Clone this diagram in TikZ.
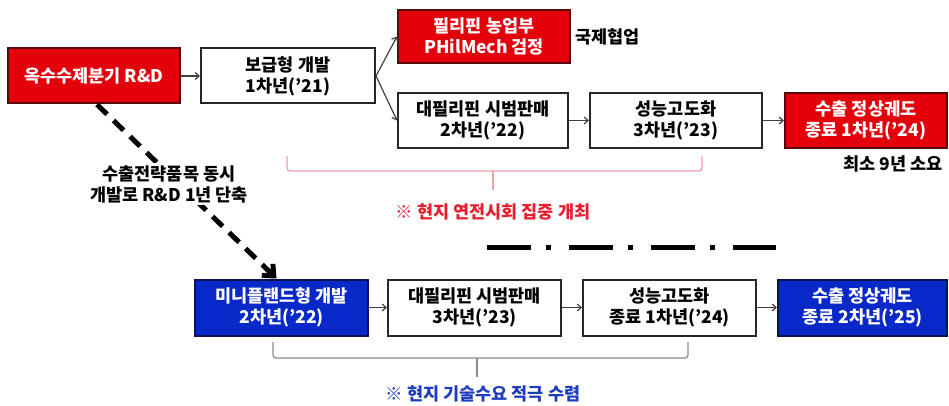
\documentclass[tikz,border=0pt]{standalone}
\usepackage{fontspec}
\setmainfont{Noto Sans CJK KR}
\usetikzlibrary{arrows.meta}
\definecolor{boxred}{RGB}{228,0,10}
\definecolor{boxredline}{RGB}{90,10,10}
\definecolor{boxblue}{RGB}{8,40,200}
\definecolor{boxblueline}{RGB}{10,20,80}
\definecolor{notered}{RGB}{232,30,45}
\definecolor{noteblue}{RGB}{30,60,190}
\definecolor{bracered}{RGB}{240,160,170}
\definecolor{bracegray}{RGB}{140,140,140}
\begin{document}
\begin{tikzpicture}[x=1pt,y=-1pt,
  every node/.style={font=\fontsize{17.5}{21}\selectfont\bfseries, inner sep=0pt, align=center},
  wbox/.style={draw=black!85, line width=2pt, fill=white, text=black, minimum height=55pt},
  rbox/.style={draw=boxredline, line width=2pt, fill=boxred, text=white, minimum height=55pt},
  bbox/.style={draw=boxblueline, line width=2pt, fill=boxblue, text=white, minimum height=56pt},
  thin/.style={draw=black!75, line width=1.2pt, -{Straight Barb[length=4pt,width=7pt]}},
  plain/.style={text=black}
]
\useasboundingbox (0,0) rectangle (949,406);
% top row
\node[rbox, minimum width=172pt] (A) at (94,76) {옥수수제분기 R\&D};
\node[wbox, minimum width=174pt] (B) at (288,76) {보급형 개발\\1차년('21)};
\node[rbox, minimum width=172pt, minimum height=53pt] (C) at (484,36.5) {필리핀 농업부\\PHilMech 검정};
\node[plain, anchor=west] (coop) at (575,37) {국제협업};
\node[wbox, minimum width=170pt] (D) at (483,120.5) {대필리핀 시범판매\\2차년('22)};
\node[wbox, minimum width=172pt] (E) at (676,120.5) {성능고도화\\3차년('23)};
\node[rbox, minimum width=162pt] (F) at (866,120.5) {수출 정상궤도\\종료 1차년('24)};
\node[plain] (min) at (893,164) {최소 9년 소요};
% arrows top
\draw[thin] (A) -- (B);
\draw[thin] (B.east) -- (C.west);
\draw[thin] (B.east) -- (D.west);
\draw[thin] (D) -- (E);
\draw[thin] (E) -- (F);
% red brace
\draw[bracered, line width=1.3pt, rounded corners=3pt] (287,156) -- (287,171) -- (702,171) -- (702,156);
\draw[bracered, line width=1.3pt] (493,171) -- (493,190);
\node[text=notered] (note1) at (493,212) {※ 현지 연전시회 집중 개최};
% dash-dot separator
\draw[black, line width=5pt, dash pattern=on 44pt off 15pt on 5pt off 18pt] (487,247) -- (776,247);
% bottom row
\node[bbox, minimum width=173pt] (G) at (281.5,307.5) {미니플랜드형 개발\\2차년('22)};
\node[wbox, minimum width=173pt, minimum height=56pt] (H) at (474.5,307.5) {대필리핀 시범판매\\3차년('23)};
\node[wbox, minimum width=173pt, minimum height=56pt] (I) at (669.5,307.5) {성능고도화\\종료 1차년('24)};
\node[bbox, minimum width=169pt] (J) at (862.5,307.5) {수출 정상궤도\\종료 2차년('25)};
\draw[thin] (G) -- (H);
\draw[thin] (H) -- (I);
\draw[thin] (I) -- (J);
% dashed arrow
\draw[black, line width=5pt, dash pattern=on 14pt off 9pt, -{Straight Barb[length=9pt,width=16pt]}] ([xshift=3pt]A.south) -- ([xshift=-5pt]G.north);
\node[plain, fill=white, inner sep=2pt] (lbl) at (169,184) {수출전략품목 동시\\개발로 R\&D 1년 단축};
% gray brace
\draw[bracegray, line width=1.3pt, rounded corners=3pt] (273,342) -- (273,358) -- (688,358) -- (688,342);
\draw[bracegray, line width=1.3pt] (477,358) -- (477,377);
\node[text=noteblue] (note2) at (483,394) {※ 현지 기술수요 적극 수렴};
\end{tikzpicture}
\end{document}
